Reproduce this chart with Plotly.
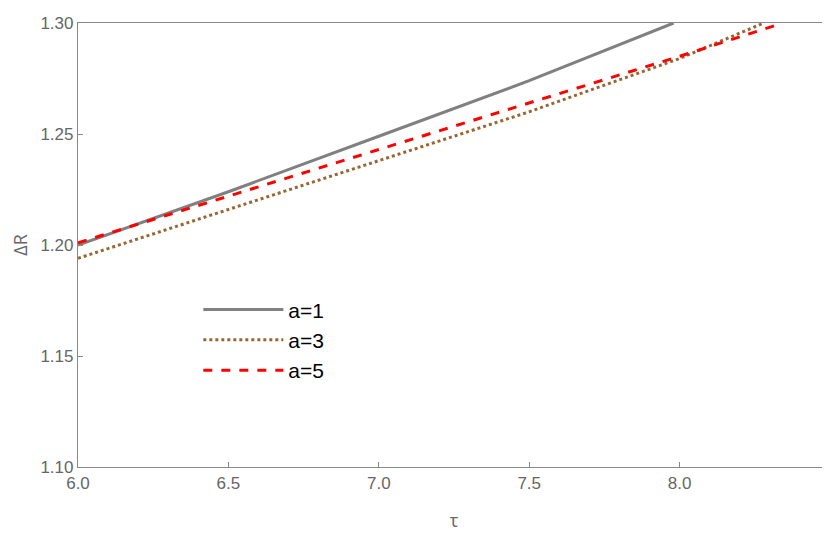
import plotly.graph_objects as go

x1 = [6.0, 6.5, 7.0, 7.5, 7.98]
y1 = [1.200, 1.224, 1.249, 1.274, 1.300]
x3 = [6.0, 6.5, 7.0, 7.5, 8.0, 8.28]
y3 = [1.194, 1.216, 1.238, 1.260, 1.284, 1.300]
x5 = [6.0, 6.5, 7.0, 7.5, 8.0, 8.32]
y5 = [1.201, 1.222, 1.243, 1.264, 1.285, 1.299]

fig = go.Figure()
fig.add_trace(go.Scatter(x=x1, y=y1, mode="lines", name="a=1", line=dict(color="#808080", width=3)))
fig.add_trace(go.Scatter(x=x3, y=y3, mode="lines", name="a=3", line=dict(color="#996633", width=3, dash="dot")))
fig.add_trace(go.Scatter(x=x5, y=y5, mode="lines", name="a=5", line=dict(color="#ff0000", width=3, dash="dash")))

ax = dict(showgrid=False, zeroline=False, showline=True, mirror=True, linecolor="#888888", linewidth=1.2,
          ticks="inside", tickcolor="#888888", automargin=False,
          tickfont=dict(color="#666666", size=17, family="Liberation Sans"))
fig.update_layout(
    width=830, height=542, plot_bgcolor="white", paper_bgcolor="white",
    margin=dict(l=70, r=8, t=15, b=83),
    xaxis=dict(range=[6.0, 8.5], dtick=0.5, tickformat=".1f",
               title=dict(text="τ", font=dict(color="#666666", size=18), standoff=22), **ax),
    yaxis=dict(range=[1.10, 1.30], dtick=0.05, tickformat=".2f",
               title=dict(text="ΔR", font=dict(color="#666666", size=18), standoff=14), **ax),
    legend=dict(x=0.16, y=0.40, xanchor="left", yanchor="top", bgcolor="rgba(0,0,0,0)",
                font=dict(size=21, color="black", family="Liberation Sans"), itemwidth=80,
                tracegroupgap=20),
    showlegend=True,
)
fig.write_html("out.html")
